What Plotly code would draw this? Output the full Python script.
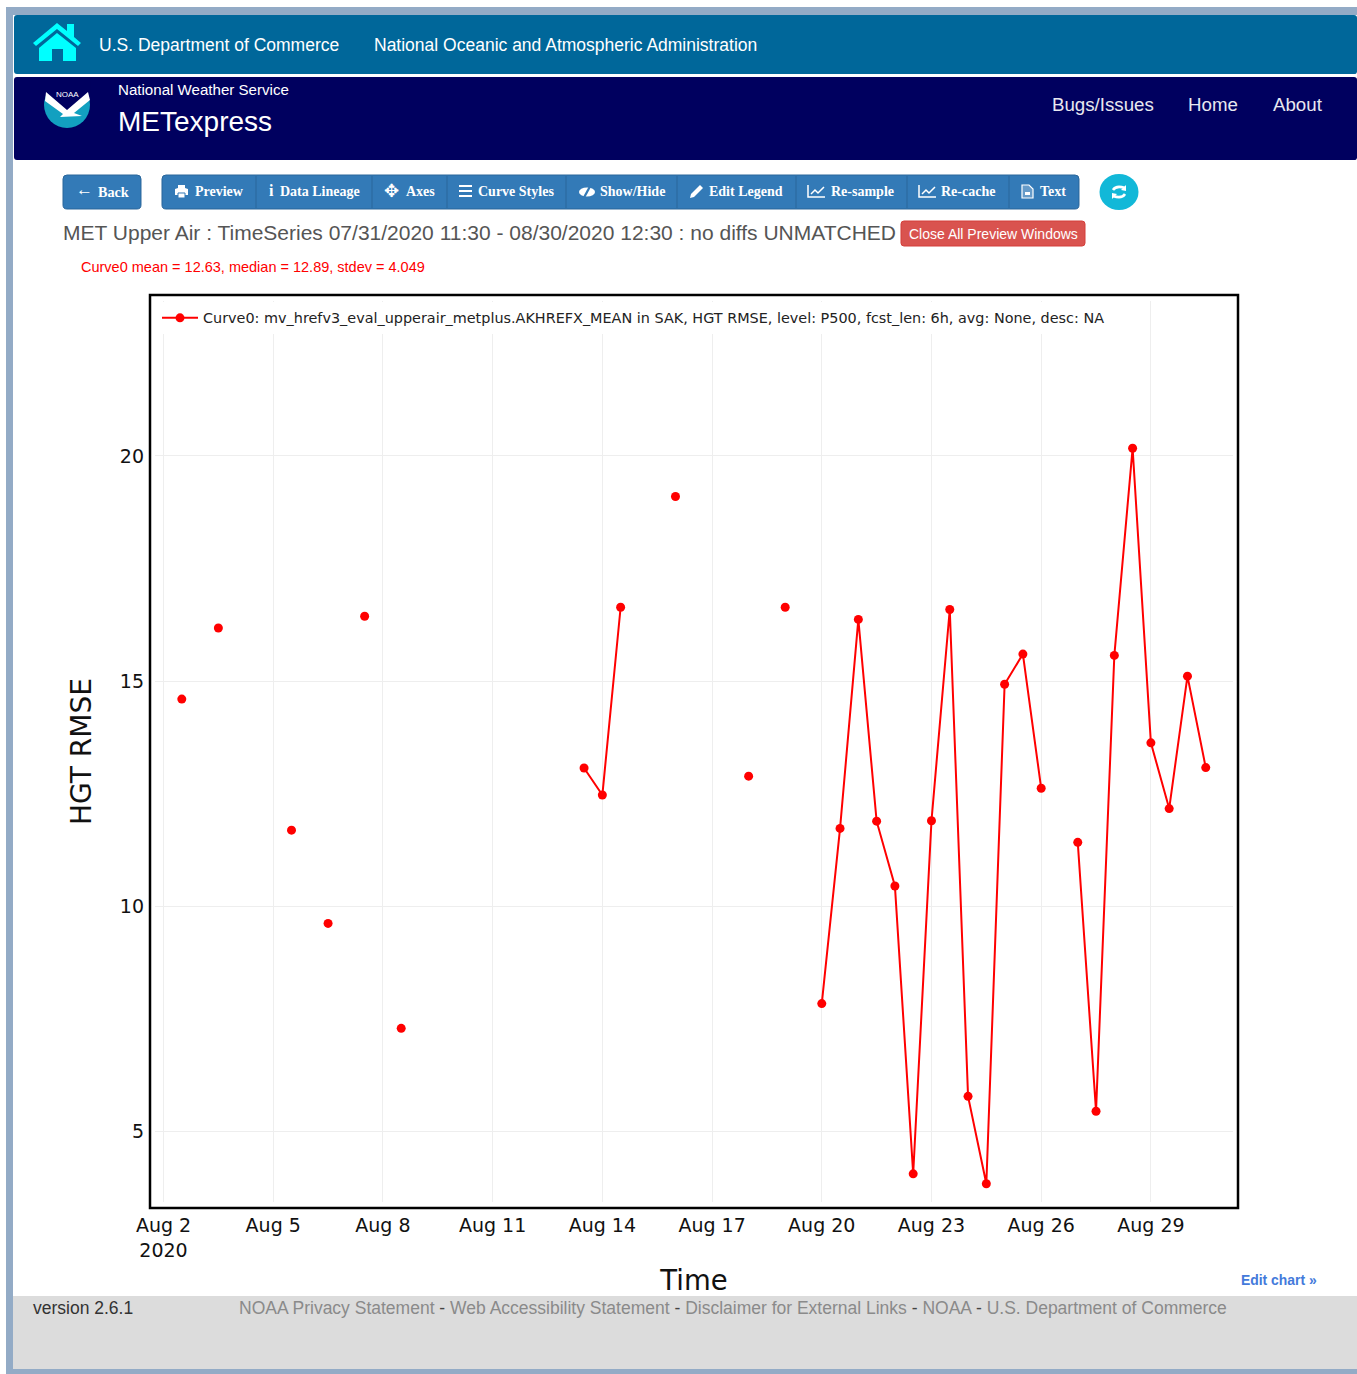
import plotly.graph_objects as go

# values, None breaks the line where a day is missing
times = [
    "2020-08-02 12:00", "2020-08-03 00:00", "2020-08-03 12:00", "2020-08-04 00:00",
    "2020-08-05 12:00", "2020-08-06 00:00", "2020-08-06 12:00", "2020-08-07 00:00",
    "2020-08-07 12:00", "2020-08-08 00:00", "2020-08-08 12:00", "2020-08-09 00:00",
    "2020-08-13 12:00", "2020-08-14 00:00", "2020-08-14 12:00", "2020-08-15 00:00",
    "2020-08-16 00:00", "2020-08-17 00:00", "2020-08-18 00:00", "2020-08-18 12:00",
    "2020-08-19 00:00", "2020-08-19 12:00",
    "2020-08-20 00:00", "2020-08-20 12:00", "2020-08-21 00:00", "2020-08-21 12:00",
    "2020-08-22 00:00", "2020-08-22 12:00", "2020-08-23 00:00", "2020-08-23 12:00",
    "2020-08-24 00:00", "2020-08-24 12:00", "2020-08-25 00:00", "2020-08-25 12:00",
    "2020-08-26 00:00", "2020-08-26 12:00",
    "2020-08-27 00:00", "2020-08-27 12:00", "2020-08-28 00:00", "2020-08-28 12:00",
    "2020-08-29 00:00", "2020-08-29 12:00", "2020-08-30 00:00", "2020-08-30 12:00",
]
rmse = [
    14.60, None, 16.18, None,
    11.69, None, 9.62, None,
    16.44, None, 7.29, None,
    13.07, 12.47, 16.64, None,
    19.10, None, 12.89, None,
    16.64, None,
    7.84, 11.73, 16.37, 11.89,
    10.45, 4.06, 11.90, 16.59,
    5.78, 3.84, 14.93, 15.60,
    12.62, None,
    11.42, 5.45, 15.57, 20.17,
    13.63, 12.17, 15.11, 13.08,
]
tick_dates = ["2020-08-02", "2020-08-05", "2020-08-08", "2020-08-11", "2020-08-14",
              "2020-08-17", "2020-08-20", "2020-08-23", "2020-08-26", "2020-08-29"]
tick_labels = ["Aug 2<br>2020", "Aug 5", "Aug 8", "Aug 11", "Aug 14",
               "Aug 17", "Aug 20", "Aug 23", "Aug 26", "Aug 29"]
curve_name = ("Curve0: mv_hrefv3_eval_upperair_metplus.AKHREFX_MEAN in SAK, HGT RMSE, "
              "level: P500, fcst_len: 6h, avg: None, desc: NA")
toolbar_labels = ["Preview", "Data Lineage", "Axes", "Curve Styles", "Show/Hide",
                  "Edit Legend", "Re-sample", "Re-cache", "Text"]
toolbar_text_x = [195, 280, 406, 478, 600, 709, 831, 941, 1040]
toolbar_seps = [256, 372, 447, 566, 677, 796, 907, 1009]

WIDTH, HEIGHT = 1357, 1374
LEFT, RIGHT, TOP, BOTTOM = 155, 1233, 301, 1202
SANS = "Liberation Sans"
SERIF = "Liberation Serif"
CHART = "DejaVu Sans"
WHITE = "#ffffff"
STRIP = "#93abc6"
TEAL = "#00679a"
NAVY = "#00005f"
BUTTON = "#337ab7"
BUTTON_EDGE = "#2a669b"


def px(x):
    return (x - LEFT) / (RIGHT - LEFT)


def py(y):
    return (BOTTOM - y) / (BOTTOM - TOP)


def pt(x, y):
    return f"{px(x):.5f},{py(y):.5f}"


shapes = []
notes = []


def add_path(d, fill=None, line=None, width=0, layer="above"):
    shapes.append(dict(type="path", path=d, xref="paper", yref="paper", layer=layer,
                       fillcolor=fill or "rgba(0,0,0,0)",
                       line=dict(color=line or "rgba(0,0,0,0)", width=width)))


def poly(points, fill=None, line=None, width=0, closed=True):
    d = "M" + " L".join(pt(x, y) for x, y in points) + (" Z" if closed else "")
    add_path(d, fill, line, width)


def rounded(x0, y0, x1, y1, r, fill, line=None):
    d = (f"M{pt(x0 + r, y0)} L{pt(x1 - r, y0)} Q{pt(x1, y0)} {pt(x1, y0 + r)} "
         f"L{pt(x1, y1 - r)} Q{pt(x1, y1)} {pt(x1 - r, y1)} L{pt(x0 + r, y1)} "
         f"Q{pt(x0, y1)} {pt(x0, y1 - r)} L{pt(x0, y0 + r)} Q{pt(x0, y0)} {pt(x0 + r, y0)} Z")
    add_path(d, fill, line, 1 if line else 0, layer="below")


def ellipse(cx, cy, rx, ry, fill):
    shapes.append(dict(type="circle", xref="paper", yref="paper", layer="above",
                       x0=px(cx - rx), x1=px(cx + rx), y0=py(cy + ry), y1=py(cy - ry),
                       fillcolor=fill, line=dict(width=0)))


def label(x, y, text, size, color, family=SANS, bold=False, anchor="left"):
    notes.append(dict(x=px(x - 1), y=py(y), xref="paper", yref="paper", text=text,
                      showarrow=False, xanchor=anchor, yanchor="middle", align="left",
                      borderpad=0,
                      font=dict(size=size, color=color, family=family,
                                weight="bold" if bold else "normal")))


# page frame and bands
poly([(6, 7), (WIDTH, 7), (WIDTH, 15), (13, 15), (13, HEIGHT - 5), (WIDTH, HEIGHT - 5),
      (WIDTH, HEIGHT), (6, HEIGHT)], fill=STRIP)
rounded(14, 15, WIDTH, 74, 3, TEAL)
rounded(14, 77, WIDTH, 160, 3, NAVY)
poly([(13, 1296), (WIDTH, 1296), (WIDTH, HEIGHT - 5), (13, HEIGHT - 5)], fill="#dcdcdc")

# home icon
HOUSE = "#00ffff"
poly([(57, 23), (67, 31), (67, 24), (74, 24), (74, 37), (81, 43), (78, 46), (57, 29),
      (36, 46), (33, 43)], fill=HOUSE)
poly([(57, 33), (76, 48), (76, 61), (63, 61), (63, 49), (52, 49), (52, 61), (39, 61),
      (39, 48)], fill=HOUSE)

# noaa logo
ellipse(67, 105, 23, 23, "#12a0c0")
poly([(43, 81), (91, 81), (91, 93), (67, 112), (43, 93)], fill=NAVY)
poly([(46, 92), (67, 110), (88, 92), (90, 100), (74, 113), (82, 116), (60, 117), (63, 114),
      (45, 101)], fill=WHITE)
label(68, 94, "NOAA", 8, WHITE, anchor="center")

# header text
label(99, 45, "U.S. Department of Commerce", 17.5, WHITE)
label(374, 45, "National Oceanic and Atmospheric Administration", 17.5, WHITE)
label(118, 90, "National Weather Service", 15.1, WHITE)
label(118, 122, "METexpress", 28, WHITE)
label(1052, 105, "Bugs/Issues", 18.7, "#e8e8f0")
label(1188, 105, "Home", 18.7, "#e8e8f0")
label(1273, 105, "About", 18.7, "#e8e8f0")

# toolbar
rounded(63, 175, 141, 209, 4, BUTTON, BUTTON_EDGE)
rounded(162, 175, 1079, 209, 4, BUTTON, BUTTON_EDGE)
for sep in toolbar_seps:
    shapes.append(dict(type="line", xref="paper", yref="paper", layer="above",
                       x0=px(sep), x1=px(sep), y0=py(176), y1=py(208),
                       line=dict(color=BUTTON_EDGE, width=1)))
label(76, 190, "←", 17, WHITE)
label(98, 192, "Back", 14.2, WHITE, SERIF, True)
for text, x in zip(toolbar_labels, toolbar_text_x):
    label(x, 192, text, 14, WHITE, SERIF, True)

# toolbar icons
poly([(178, 185), (185, 185), (185, 188), (188, 189), (188, 195), (175, 195), (175, 189),
      (178, 188)], fill=WHITE)
poly([(178, 193), (185, 193), (185, 198), (178, 198)], fill=WHITE, line=BUTTON, width=1)
label(269, 191, "i", 16, WHITE, SERIF, True)
label(384, 191, "✥", 18, WHITE, "DejaVu Sans")
for y in (186, 191, 196):
    poly([(459, y - 1), (472, y - 1), (472, y + 1), (459, y + 1)], fill=WHITE)
ellipse(587, 192, 8, 4.5, WHITE)
poly([(589, 186), (591, 187), (585, 198), (583, 197)], fill=BUTTON)
poly([(700, 185), (703, 188), (694, 197), (690, 198), (691, 194)], fill=WHITE)
for x0, x1 in ((808, 825), (919, 936)):
    poly([(x0, 185), (x0, 197), (x1, 197)], line=WHITE, width=1.5, closed=False)
    poly([(x0 + 3, 194), (x0 + 7, 190), (x0 + 10, 193), (x1 - 1, 187)], line=WHITE, width=1.5,
         closed=False)
poly([(1022, 185), (1029, 185), (1033, 189), (1033, 198), (1022, 198)], line=WHITE, width=1.2,
     fill="rgba(255,255,255,0.25)")
poly([(1025, 192), (1030, 192), (1030, 195), (1025, 195)], fill=WHITE)

# refresh button
ellipse(1119, 192, 19.5, 18, "#12b8d8")
add_path(f"M{pt(1113, 190)} Q{pt(1116, 185)} {pt(1125, 188)}", line=WHITE, width=2.5)
add_path(f"M{pt(1125, 194)} Q{pt(1122, 199)} {pt(1113, 196)}", line=WHITE, width=2.5)
poly([(1126, 185), (1126, 191), (1121, 190)], fill=WHITE)
poly([(1112, 199), (1112, 193), (1117, 194)], fill=WHITE)

# title row
label(63, 232, "MET Upper Air : TimeSeries 07/31/2020 11:30 - 08/30/2020 12:30 : no diffs UNMATCHED",
      21, "#555555")
rounded(901, 221, 1085, 246, 3, "#d9534f", "#d43f3a")
label(909, 233.5, "Close All Preview Windows", 14, WHITE)
label(81, 267, "Curve0 mean = 12.63, median = 12.89, stdev = 4.049", 14.5, "#ff0000")

# black frame round the plot
shapes.append(dict(type="rect", xref="paper", yref="paper", layer="above",
                   x0=px(150), x1=px(1238), y0=py(1208), y1=py(295),
                   line=dict(color="#000000", width=2.5)))

# footer
label(33, 1308, "version 2.6.1", 17.5, "#333333")
GREY = "#8a8a8a"
DASH = '<span style="color:#444444"> - </span>'
footer_links = ["NOAA Privacy Statement", "Web Accessibility Statement",
                "Disclaimer for External Links", "NOAA", "U.S. Department of Commerce"]
label(239, 1308, DASH.join(footer_links), 17.5, GREY)
label(1241, 1280, "Edit chart »", 13.9, "#447adb", SANS, True)

fig = go.Figure()
fig.add_trace(go.Scatter(
    x=times,
    y=rmse,
    name=curve_name,
    mode="lines+markers",
    line=dict(color="#ff0000", width=2),
    marker=dict(color="#ff0000", size=9),
    connectgaps=False,
    showlegend=True,
))

fig.update_layout(
    width=WIDTH,
    height=HEIGHT,
    autosize=False,
    margin=dict(l=LEFT, r=WIDTH - RIGHT, t=TOP, b=HEIGHT - BOTTOM, pad=0, autoexpand=False),
    paper_bgcolor=WHITE,
    plot_bgcolor=WHITE,
    font=dict(family=CHART, color="#111111"),
    shapes=shapes,
    annotations=notes,
    hovermode="closest",
    legend=dict(x=px(157), y=py(302), xanchor="left", yanchor="top", bgcolor=WHITE,
                font=dict(family=CHART, size=14.4, color="#222222"), itemwidth=36,
                borderwidth=0),
    xaxis=dict(
        type="date",
        range=["2020-08-01 18:25", "2020-08-31 05:53"],
        tickmode="array",
        tickvals=tick_dates,
        ticktext=tick_labels,
        tickfont=dict(size=19),
        ticks="",
        ticklabelstandoff=10,
        gridcolor="#eeeeee",
        gridwidth=1,
        zeroline=False,
        showline=False,
        automargin=True,
        title=dict(text="Time", font=dict(size=27.5), standoff=11),
    ),
    yaxis=dict(
        range=[3.434, 23.44],
        tickmode="array",
        tickvals=[5, 10, 15, 20],
        tickfont=dict(size=19),
        ticks="",
        ticklabelstandoff=10,
        gridcolor="#eeeeee",
        gridwidth=1,
        zeroline=False,
        showline=False,
        automargin=True,
        title=dict(text="HGT RMSE", font=dict(size=28), standoff=20),
    ),
)

fig.write_html("out.html", config={"displayModeBar": False},
               post_script="document.body.style.margin='0';document.body.style.overflow='hidden';")
